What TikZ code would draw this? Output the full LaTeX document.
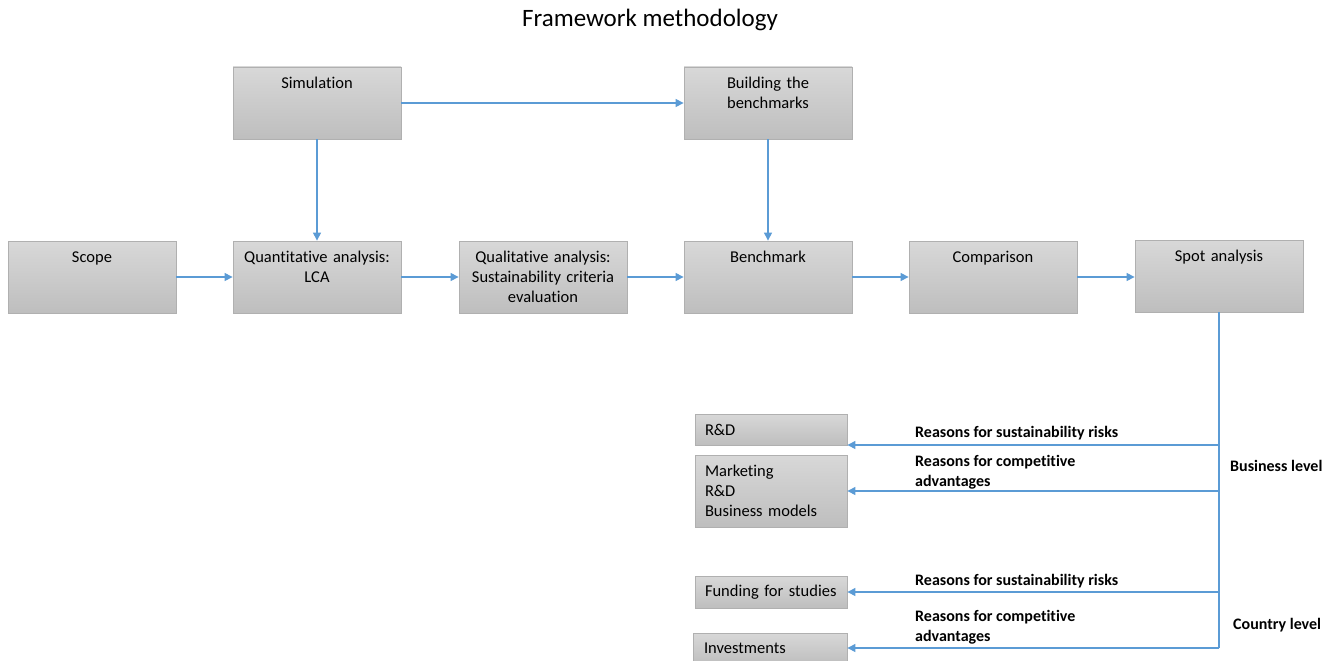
\documentclass[tikz,border=0pt]{standalone}
\usepackage{fontspec}
\setmainfont[Ligatures=NoCommon]{Carlito}
\usetikzlibrary{arrows.meta}
\definecolor{link}{HTML}{5B9BD5}
\definecolor{boxtop}{HTML}{D8D8D8}
\definecolor{boxbot}{HTML}{BEBEBE}
\definecolor{boxline}{HTML}{B0B0B0}
\begin{document}
\begin{tikzpicture}[x=1pt,y=-1pt,
  shaded/.style={draw=boxline, line width=0.8pt, top color=boxtop, bottom color=boxbot},
  stage/.style={shaded, minimum width=168pt, minimum height=72pt, inner sep=0pt},
  caption/.style={anchor=north, yshift=-8pt, inner sep=0pt, text width=164pt,
    align=center, font=\fontsize{16.5}{20}\selectfont, execute at begin node=\strut},
  outcome/.style={shaded, minimum width=152pt, text width=132pt, inner xsep=10pt,
    inner ysep=0pt, align=left, font=\fontsize{16.5}{20}\selectfont},
  flow/.style={draw=link, line width=1.1pt, -{Triangle[length=8pt,width=8pt]}},
  trunk/.style={draw=link, line width=1.1pt},
  note/.style={anchor=west, align=left, inner sep=0pt, font=\bfseries\fontsize{16}{20}\selectfont}]
\useasboundingbox (0,0) rectangle (1336,661);

% title
\node[font=\fontsize{25}{30}\selectfont] (title) at (650,20) {Framework methodology};

% upper row
\node[stage, label={[caption]north:Simulation}] (sim) at (317,103) {};
\node[stage, label={[caption]north:Building the\\benchmarks}] (build) at (768,103) {};

% main row
\node[stage, label={[caption]north:Scope}] (scope) at (92,277) {};
\node[stage, label={[caption]north:Quantitative analysis:\\LCA}] (quant) at (317,277) {};
\node[stage, label={[caption]north:Qualitative analysis:\\Sustainability criteria\\evaluation}] (qual) at (543,277) {};
\node[stage, label={[caption]north:Benchmark}] (bm) at (768,277) {};
\node[stage, label={[caption]north:Comparison}] (comp) at (993,277) {};
\node[stage, label={[caption]north:Spot analysis}] (spot) at (1219,276) {};

% outcomes
\node[outcome, minimum height=31pt] (rd) at (771,429.5) {R\&D};
\node[outcome, minimum height=72pt] (mkt) at (771,491) {Marketing\\R\&D\\Business models};
\node[outcome, minimum height=32pt] (fund) at (771,592) {Funding for studies};
\node[outcome, minimum width=154pt, minimum height=31pt] (inv) at (770,648.5) {Investments};

% connectors
\draw[flow] (sim.east) -- (build.west);
\draw[flow] (sim.south) -- (quant.north);
\draw[flow] (build.south) -- (bm.north);
\draw[flow] (scope.east) -- (quant.west);
\draw[flow] (quant.east) -- (qual.west);
\draw[flow] (qual.east) -- (bm.west);
\draw[flow] (bm.east) -- (comp.west);
\draw[flow] (comp.east) -- (comp.east -| spot.west);

% branching from spot analysis
\coordinate (b1) at (1219,445);
\coordinate (b2) at (1219,491);
\coordinate (c1) at (1219,592);
\coordinate (c2) at (1219,648);
\draw[trunk] (spot.south) -- (c2);
\draw[flow] (b1) -- (b1 -| rd.east);
\draw[flow] (b2) -- (b2 -| mkt.east);
\draw[flow] (c1) -- (c1 -| fund.east);
\draw[flow] (c2) -- (c2 -| inv.east);

% branch labels
\node[note] (l1) at (915,433) {Reasons for sustainability risks};
\node[note] (l2) at (915,472) {Reasons for competitive\\advantages};
\node[note] (l3) at (915,581) {Reasons for sustainability risks};
\node[note] (l4) at (915,627) {Reasons for competitive\\advantages};
\node[note] (bl) at (1230,466) {Business level};
\node[note] (cl) at (1233,625) {Country level};
\end{tikzpicture}
\end{document}
